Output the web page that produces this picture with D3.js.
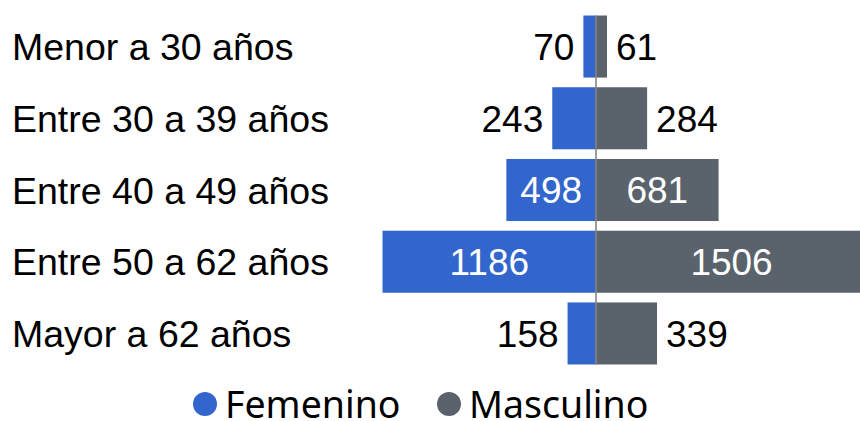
<!DOCTYPE html>
<html>
<head>
<meta charset="utf-8">
<script src="https://cdn.jsdelivr.net/npm/d3@7"></script>
<style>
  body { margin: 0; background: #fff; }
  svg { display: block; }
</style>
</head>
<body>
<div id="vizcont"></div>
<script>
// data
var categories = ["Menor a 30 años", "Entre 30 a 39 años", "Entre 40 a 49 años", "Entre 50 a 62 años", "Mayor a 62 años"];
var femenino = [70, 243, 498, 1186, 158];
var masculino = [61, 284, 681, 1506, 339];
var seriesNames = ["Femenino", "Masculino"];
var seriesColors = ["#3366cc", "#5a636c"];

var width = 860, height = 421;
var center = 596;
var labelFont = "'Liberation Sans', Arial, sans-serif";

var svg = d3.select("#vizcont")
    .append("svg")
    .attr("width", width)
    .attr("height", height);

// band scale for the rows
var y = d3.scaleBand()
    .domain(categories)
    .range([10.5, 369.5])
    .paddingInner(0.135)
    .paddingOuter(0.07);

// two linear scales that go out from the centre line
var xR = d3.scaleLinear().domain([0, 1500]).range([center, center + 270]);
var xL = d3.scaleLinear().domain([0, 1500]).range([center, center - 270]);

var rows = categories.map(function(c, i) {
  return {cat: c, f: femenino[i], m: masculino[i]};
});

// category labels on the left
svg.selectAll("text.cat")
  .data(rows)
  .enter()
  .append("text")
    .attr("class", "cat")
    .attr("x", 12)
    .attr("y", function(d) { return y(d.cat) + y.bandwidth() / 2 + 13.5; })
    .style("font-family", labelFont)
    .style("font-size", "37.5px")
    .style("fill", "#000")
    .text(function(d) { return d.cat; });

// femenino bars
svg.selectAll("rect.fem")
  .data(rows)
  .enter()
  .append("rect")
    .attr("class", "fem")
    .attr("x", function(d) { return xL(d.f); })
    .attr("y", function(d) { return y(d.cat); })
    .attr("width", function(d) { return center - xL(d.f); })
    .attr("height", y.bandwidth())
    .style("fill", seriesColors[0]);

// masculino bars (the longest runs off the right edge, as in the source)
svg.selectAll("rect.mas")
  .data(rows)
  .enter()
  .append("rect")
    .attr("class", "mas")
    .attr("x", center)
    .attr("y", function(d) { return y(d.cat); })
    .attr("width", function(d) { return xR(d.m) - center; })
    .attr("height", y.bandwidth())
    .style("fill", seriesColors[1]);

// centre line
svg.append("line")
  .attr("x1", center).attr("x2", center)
  .attr("y1", y(categories[0]))
  .attr("y2", y(categories[categories.length - 1]) + y.bandwidth())
  .style("stroke", "#858585")
  .style("stroke-width", 1.6);

// value labels: inside (white, centred) when they fit, else outside
function addLabels(key, scale, side) {
  svg.selectAll("text.v" + key)
    .data(rows)
    .enter()
    .append("text")
      .attr("class", "v" + key)
      .style("font-family", labelFont)
      .style("font-size", "37px")
      .text(function(d) { return d[key]; })
      .each(function(d) {
        var t = d3.select(this);
        var tw = this.getComputedTextLength();
        var end = scale(d[key]);
        var barW = Math.abs(end - center);
        var yy = y(d.cat) + y.bandwidth() / 2 + 13.3;
        t.attr("y", yy);
        if (barW > tw + 12) {
          t.attr("x", (center + end) / 2)
           .attr("text-anchor", "middle")
           .style("fill", "#fff");
        } else {
          t.attr("x", end + side * 9)
           .attr("text-anchor", side < 0 ? "end" : "start")
           .style("fill", "#000");
        }
      });
}
addLabels("f", xL, -1);
addLabels("m", xR, 1);

// legend
var legendX = [205, 449];
var lg = svg.selectAll("g.legend")
  .data(seriesNames)
  .enter()
  .append("g")
    .attr("class", "legend")
    .attr("transform", function(d, i) { return "translate(" + legendX[i] + ",404)"; });

lg.append("circle")
  .attr("r", 12)
  .style("fill", function(d, i) { return seriesColors[i]; });

lg.append("text")
  .attr("x", 20)
  .attr("y", 13.5)
  .style("font-family", "'Noto Sans', 'Open Sans', sans-serif")
  .style("font-size", "37.5px")
  .style("fill", "#000")
  .text(function(d) { return d; });
</script>
</body>
</html>
